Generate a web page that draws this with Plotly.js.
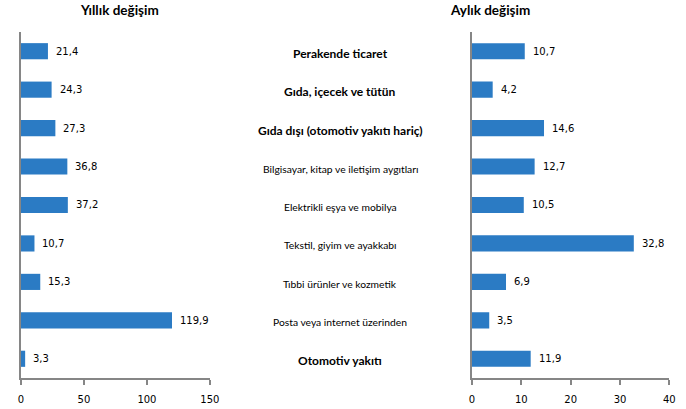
<!DOCTYPE html>
<html>
<head>
<meta charset="utf-8">
<script src="https://cdn.plot.ly/plotly-3.0.1.min.js"></script>
<style>html,body{margin:0;padding:0;background:#fff;}#chart{width:686px;height:409px;}</style>
</head>
<body>
<div id="chart"></div>
<script>
const categories = [
  "Perakende ticaret",
  "Gıda, içecek ve tütün",
  "Gıda dışı (otomotiv yakıtı hariç)",
  "Bilgisayar, kitap ve iletişim aygıtları",
  "Elektrikli eşya ve mobilya",
  "Tekstil, giyim ve ayakkabı",
  "Tıbbi ürünler ve kozmetik",
  "Posta veya internet üzerinden",
  "Otomotiv yakıtı"
];
const boldCategories = [true, true, true, false, false, false, false, false, true];
const annualChange = [21.4, 24.3, 27.3, 36.8, 37.2, 10.7, 15.3, 119.9, 3.3];
const monthlyChange = [10.7, 4.2, 14.6, 12.7, 10.5, 32.8, 6.9, 3.5, 11.9];
const leftTitle = "Yıllık değişim";
const rightTitle = "Aylık değişim";
const leftTicks = [0, 50, 100, 150];
const rightTicks = [0, 10, 20, 30, 40];

const barColor = '#2B7BC4';
const fmt = v => v.toFixed(1).replace('.', ',');
const numFont = {family: 'DejaVu Sans', size: 10, color: '#000'};

const traces = [
  {type: 'bar', orientation: 'h', x: annualChange, y: categories, xaxis: 'x', yaxis: 'y',
   marker: {color: barColor}, width: 0.42, hoverinfo: 'none'},
  {type: 'bar', orientation: 'h', x: monthlyChange, y: categories, xaxis: 'x2', yaxis: 'y2',
   marker: {color: barColor}, width: 0.42, hoverinfo: 'none'}
];

const annotations = [];
annualChange.forEach((v, i) => annotations.push({
  x: v, y: categories[i], xref: 'x', yref: 'y', text: fmt(v), showarrow: false,
  xanchor: 'left', yanchor: 'middle', xshift: 6, font: numFont
}));
monthlyChange.forEach((v, i) => annotations.push({
  x: v, y: categories[i], xref: 'x2', yref: 'y2', text: fmt(v), showarrow: false,
  xanchor: 'left', yanchor: 'middle', xshift: 6, font: numFont
}));
categories.forEach((c, i) => annotations.push({
  x: 0.496, y: c, xref: 'paper', yref: 'y', yshift: -2,
  text: boldCategories[i] ? '<b>' + c + '</b>' : c, showarrow: false,
  xanchor: 'center', yanchor: 'middle',
  font: {family: 'Lato', size: boldCategories[i] ? 12 : 10.3, color: '#000'}
}));
annotations.push({x: 0.114, y: 1, xref: 'paper', yref: 'paper', yanchor: 'top', yshift: 0,
  text: '<b>' + leftTitle + '</b>', showarrow: false, font: {family: 'Lato', size: 13.5, color: '#000'}});
annotations.push({x: 0.776, y: 1, xref: 'paper', yref: 'paper', yanchor: 'top', yshift: 0,
  text: '<b>' + rightTitle + '</b>', showarrow: false, font: {family: 'Lato', size: 13.5, color: '#000'}});

const axisX = (domain, range, ticks) => ({
  domain: domain, range: range, tickvals: ticks, ticktext: ticks.map(String),
  showgrid: false, zeroline: false, showline: true, linecolor: '#868686', linewidth: 2,
  ticks: 'outside', ticklen: 5, tickwidth: 2, tickcolor: '#868686',
  tickfont: numFont, fixedrange: true, ticklabelstandoff: 6
});
const axisY = (anchor) => ({
  domain: [0.0758, 0.9218], anchor: anchor, autorange: 'reversed', showticklabels: false,
  showgrid: false, zeroline: false, showline: true, linecolor: '#868686', linewidth: 2,
  ticks: '', fixedrange: true
});

const layout = {
  width: 686, height: 409,
  margin: {l: 0, r: 0, t: 0, b: 0},
  paper_bgcolor: '#fff', plot_bgcolor: '#fff',
  showlegend: false, bargap: 0.58,
  xaxis: Object.assign(axisX([0.0306, 0.306], [0, 150], leftTicks), {anchor: 'y'}),
  yaxis: axisY('x'),
  xaxis2: Object.assign(axisX([0.688, 0.9757], [0, 40], rightTicks), {anchor: 'y2'}),
  yaxis2: axisY('x2'),
  annotations: annotations
};

Plotly.newPlot('chart', traces, layout, {displayModeBar: false, staticPlot: true});
</script>
</body>
</html>
